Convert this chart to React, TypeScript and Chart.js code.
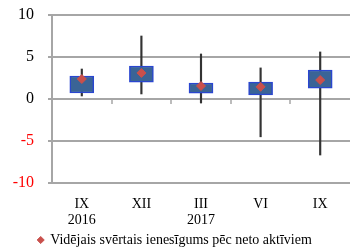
import React, { useEffect, useRef } from "react";
import { Chart, registerables } from "chart.js";

Chart.register(...registerables);

const categories = ["IX", "XII", "III", "VI", "IX"];
const years = ["2016", "", "2017", "", ""];
const boxLow = [0.71, 2.0, 0.7, 0.5, 1.3];
const boxHigh = [2.74, 3.93, 1.9, 2.0, 3.45];
const whiskerLow = [0.36, 0.6, -0.48, -4.5, -6.67];
const whiskerHigh = [3.57, 7.5, 5.36, 3.7, 5.6];
const meanValues = [2.38, 3.1, 1.55, 1.45, 2.26];
const yTickValues = [-10, -5, 0, 5, 10];
const legendLabel = "Vidējais svērtais ienesīgums pēc neto aktīviem";
const SERIF = "'Liberation Serif', 'Times New Roman', serif";
const GRID = "#a6a6a6";

const axisDecor = {
  id: "axisDecor",
  beforeDatasetsDraw(chart: any) {
    const x = chart.scales.x;
    const y = chart.scales.y;
    const ctx = chart.ctx;
    ctx.save();
    ctx.strokeStyle = GRID;
    ctx.lineWidth = 2;
    yTickValues.forEach((v) => {
      const py = Math.round(y.getPixelForValue(v));
      ctx.beginPath();
      ctx.moveTo(x.left - 4, py);
      ctx.lineTo(x.right, py);
      ctx.stroke();
    });
    const ax = Math.round(x.left);
    const top = y.getPixelForValue(yTickValues[yTickValues.length - 1]);
    const bottom = y.getPixelForValue(yTickValues[0]);
    ctx.beginPath();
    ctx.moveTo(ax, top - 1);
    ctx.lineTo(ax, bottom + 1);
    ctx.stroke();
    const y0 = Math.round(y.getPixelForValue(0));
    ctx.lineWidth = 1.5;
    for (let i = 1; i < categories.length; i++) {
      const px = Math.round((x.getPixelForValue(i - 1) + x.getPixelForValue(i)) / 2);
      ctx.beginPath();
      ctx.moveTo(px, y0);
      ctx.lineTo(px, y0 + 5);
      ctx.stroke();
    }
    ctx.restore();
  },
};

export default function App() {
  const ref = useRef<HTMLCanvasElement>(null);
  useEffect(() => {
    document.body.style.margin = "0";
    Chart.defaults.font.family = SERIF;
    const labels = categories.map((c, i) => (years[i] ? [c, years[i]] : c));
    const chart = new Chart(ref.current!, {
      type: "bar",
      data: {
        labels,
        datasets: [
          {
            type: "line",
            label: legendLabel,
            data: meanValues,
            showLine: false,
            pointStyle: "rectRot",
            pointRadius: 4.5,
            pointBackgroundColor: "#c9504c",
            pointBorderColor: "#c9504c",
            borderColor: "#c9504c",
            backgroundColor: "#c9504c",
            order: 0,
          } as any,
          {
            label: "box",
            data: boxLow.map((v, i) => [v, boxHigh[i]]),
            backgroundColor: "#3a6496",
            borderColor: "#2a46d0",
            borderWidth: 1.5,
            borderSkipped: false,
            barThickness: 24,
            grouped: false,
            order: 1,
          } as any,
          {
            label: "whisker",
            data: whiskerLow.map((v, i) => [v, whiskerHigh[i]]),
            backgroundColor: "#333333",
            borderWidth: 0,
            barThickness: 1.5,
            grouped: false,
            order: 2,
          } as any,
        ],
      },
      options: {
        animation: false,
        responsive: false,
        maintainAspectRatio: false,
        layout: { autoPadding: false, padding: { top: 15, right: 0, left: 0, bottom: -9 } },
        plugins: {
          tooltip: { enabled: false },
          legend: {
            position: "bottom",
            labels: {
              filter: (item: any) => item.datasetIndex === 0,
              usePointStyle: true,
              pointStyle: "rectRot",
              boxWidth: 5,
              boxHeight: 5,
              padding: 0,
              color: "#000",
              font: { family: SERIF, size: 14 },
            },
          },
        },
        scales: {
          x: {
            grid: { display: false, drawTicks: false },
            border: { display: false },
            ticks: {
              color: "#000",
              padding: 13,
              maxRotation: 0,
              font: { family: SERIF, size: 14, lineHeight: 1.15 },
            },
            afterFit: (s: any) => {
              s.height = 50;
            },
          },
          y: {
            min: -10,
            max: 10,
            afterBuildTicks: (s: any) => {
              s.ticks = yTickValues.map((v) => ({ value: v }));
            },
            grid: { display: false, drawTicks: false },
            border: { display: false },
            ticks: {
              padding: 18,
              color: (c: any) => (c.tick && c.tick.value < 0 ? "#ff0000" : "#000"),
              font: { family: SERIF, size: 16 },
            },
            afterFit: (s: any) => {
              s.width = 52;
              s.paddingTop = 0;
              s.paddingBottom = 0;
            },
          },
        },
      },
      plugins: [axisDecor],
    });
    return () => chart.destroy();
  }, []);
  return <canvas ref={ref} width={350} height={248} style={{ display: "block" }} />;
}
